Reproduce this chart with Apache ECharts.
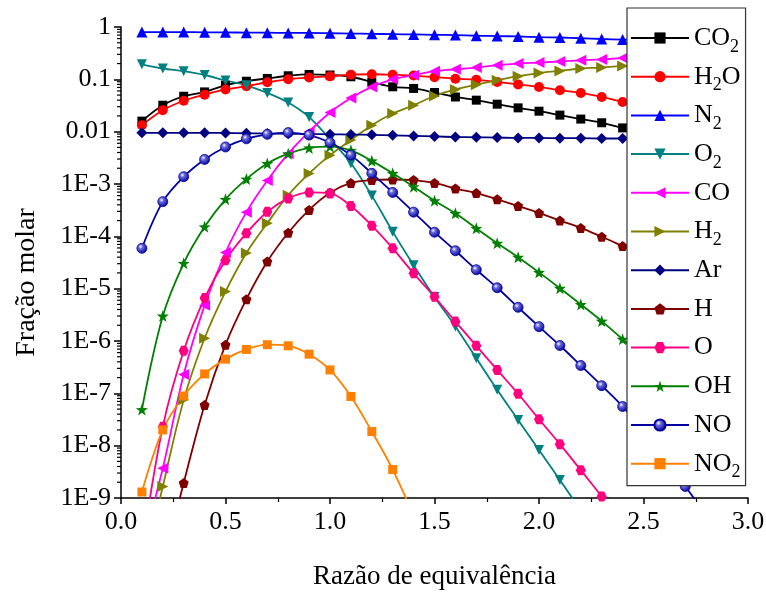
<!DOCTYPE html>
<html>
<head>
<meta charset="utf-8">
<script src="https://cdn.jsdelivr.net/npm/echarts@6/dist/echarts.min.js"></script>
<style>html,body{margin:0;padding:0;background:#fff}#c{width:766px;height:592px}</style>
</head>
<body>
<div id="c"></div>
<script>
// Equivalence ratio (x) for every point
const phi = [0.1,0.2,0.3,0.4,0.5,0.6,0.7,0.8,0.9,1.0,1.1,1.2,1.3,1.4,1.5,1.6,1.7,1.8,1.9,2.0,2.1,2.2,2.3,2.4,2.5,2.6,2.7,2.8,2.9];

// Mole fractions
const CO2 = [0.0159,0.032,0.0475,0.0575,0.077,0.092,0.104,0.117,0.124,0.121,0.112,0.089,0.072,0.067,0.056,0.046,0.040,0.0335,0.0285,0.0246,0.0207,0.0174,0.0148,0.0118,0.0100,0.0085,0.0072,0.0061,0.0052];
const H2O = [0.0133,0.0257,0.039,0.051,0.064,0.074,0.088,0.100,0.108,0.114,0.123,0.125,0.122,0.118,0.110,0.103,0.098,0.089,0.080,0.0716,0.062,0.055,0.046,0.037,0.031,0.026,0.021,0.017,0.014];
const N2  = [0.80,0.80,0.80,0.79,0.79,0.78,0.78,0.77,0.77,0.76,0.75,0.74,0.73,0.72,0.71,0.70,0.68,0.67,0.66,0.64,0.63,0.61,0.59,0.575,0.56,0.55,0.53,0.52,0.50];
const O2  = [0.194,0.161,0.143,0.121,0.095,0.077,0.055,0.036,0.019,0.0072,0.0025,6.0e-4,1.23e-4,2.8e-5,6.9e-6,1.9e-6,4.7e-7,1.17e-7,3.1e-8,8.3e-9,2.2e-9,5.8e-10,1.5e-10,null,null,null,null,null,null];
const CO  = [1.1e-10,3.7e-9,2.3e-7,4.8e-6,4.9e-5,2.9e-4,1.17e-3,3.8e-3,0.0100,0.0233,0.044,0.0716,0.100,0.120,0.143,0.155,0.168,0.186,0.200,0.209,0.220,0.231,0.240,0.255,0.265,0.275,0.285,0.290,0.295];
const H2  = [3.4e-11,1.66e-9,7.5e-8,1.13e-6,8.8e-6,4.8e-5,1.78e-4,6.1e-4,1.59e-3,3.56e-3,6.9e-3,0.0133,0.0222,0.032,0.048,0.064,0.079,0.096,0.115,0.132,0.145,0.161,0.168,0.180,0.190,0.200,0.210,0.215,0.220];
const Ar  = [0.0095,0.0095,0.0095,0.0095,0.0094,0.0093,0.0092,0.0091,0.0090,0.0089,0.0088,0.0087,0.0085,0.0083,0.0081,0.0079,0.0078,0.0077,0.0076,0.0076,0.0075,0.0075,0.0074,0.0074,0.0073,0.0073,0.0072,0.0072,0.0071];
const H   = [1e-12,5e-11,1.94e-9,6.0e-8,8.5e-7,6.3e-6,3.3e-5,1.17e-4,3.2e-4,6.8e-4,1.05e-3,1.19e-3,1.22e-3,1.19e-3,1.05e-3,8.2e-4,6.7e-4,5.1e-4,3.8e-4,2.8e-4,2.0e-4,1.45e-4,9.8e-5,6.5e-5,4.3e-5,2.8e-5,1.8e-5,1.2e-5,7.7e-6];
const O   = [1e-10,2.3e-8,6.5e-7,6.6e-6,3.5e-5,1.15e-4,2.95e-4,5.3e-4,6.9e-4,6.6e-4,3.8e-4,1.6e-4,5.9e-5,1.96e-5,7.0e-6,2.35e-6,8.1e-7,2.8e-7,9.8e-8,3.2e-8,1.07e-8,3.4e-9,1.07e-9,3.3e-10,1e-10,null,null,null,null];
const OH  = [4.9e-8,3.0e-6,3.05e-5,1.52e-4,5.1e-4,1.24e-3,2.46e-3,3.8e-3,4.9e-3,5.2e-3,4.4e-3,2.77e-3,1.6e-3,8.9e-4,4.8e-4,2.75e-4,1.42e-4,7.4e-5,4.0e-5,2.05e-5,1.02e-5,5.0e-6,2.4e-6,1.08e-6,4.7e-7,2.0e-7,8.3e-8,3.4e-8,1.35e-8];
const NO  = [5.9e-5,4.6e-4,1.38e-3,2.95e-3,5.1e-3,7.3e-3,8.9e-3,9.6e-3,8.6e-3,6.2e-3,3.56e-3,1.6e-3,6.9e-4,2.9e-4,1.2e-4,5.3e-5,2.3e-5,1.04e-5,4.4e-6,1.88e-6,8.2e-7,3.4e-7,1.4e-7,5.6e-8,1.8e-8,5.5e-9,1.66e-9,4.7e-10,1.3e-10];
const NO2 = [1.3e-9,2.0e-8,8.9e-8,2.35e-7,4.5e-7,6.9e-7,8.5e-7,8.1e-7,5.6e-7,2.8e-7,8.7e-8,1.86e-8,3.5e-9,4.5e-10,4e-11,null,null,null,null,null,null,null,null,null,null,null,null,null,null];

// Axis ticks
const xTicks = [0.0,0.5,1.0,1.5,2.0,2.5,3.0];
const yTickLabels = {'0':'1','-1':'0.1','-2':'0.01','-3':'1E-3','-4':'1E-4','-5':'1E-5','-6':'1E-6','-7':'1E-7','-8':'1E-8','-9':'1E-9'};

const FONT = '"Liberation Serif","DejaVu Serif",serif';
const pair = arr => phi.map((x,i) => [x, arr[i]]);

const SYM = {
  down: 'path://M0,10 L-10,-7.32 L10,-7.32 Z',
  left: 'path://M-10,0 L7.32,-10 L7.32,10 Z',
  right:'path://M10,0 L-7.32,-10 L-7.32,10 Z',
  pent: 'path://M0,-10 L9.51,-3.09 L5.88,8.09 L-5.88,8.09 L-9.51,-3.09 Z',
  hex:  'path://M-5,-8.66 L5,-8.66 L10,0 L5,8.66 L-5,8.66 L-10,0 Z',
  star: 'path://M0,-10 L2.35,-3.24 L9.51,-3.09 L3.8,1.24 L5.88,8.09 L0,4 L-5.88,8.09 L-3.8,1.24 L-9.51,-3.09 L-2.35,-3.24 Z'
};

const defs = [
  {name:'CO2', data:CO2, color:'#000000', symbol:'rect', size:9},
  {name:'H2O', data:H2O, color:'#FF0000', symbol:'circle', size:10},
  {name:'N2',  data:N2,  color:'#0000FF', symbol:'triangle', size:11},
  {name:'O2',  data:O2,  color:'#008080', symbol:SYM.down, size:10},
  {name:'CO',  data:CO,  color:'#FF00FF', symbol:SYM.left, size:11},
  {name:'H2',  data:H2,  color:'#808000', symbol:SYM.right, size:11},
  {name:'Ar',  data:Ar,  color:'#000080', symbol:'diamond', size:11},
  {name:'H',   data:H,   color:'#800000', symbol:SYM.pent, size:10},
  {name:'O',   data:O,   color:'#FF0080', symbol:SYM.hex, size:10},
  {name:'OH',  data:OH,  color:'#008000', symbol:SYM.star, size:12},
  {name:'NO',  data:NO,  color:'#0000A0', symbol:'circle', size:10,
     fill:{type:'radial',x:0.38,y:0.35,r:0.65,colorStops:[{offset:0,color:'#ffffff'},{offset:0.3,color:'#6a6ad8'},{offset:1,color:'#0000A0'}]}},
  {name:'NO2', data:NO2, color:'#FF8000', symbol:'rect', size:9}
];

const legendRich = {
  'CO2':'{n|CO}{s|2}','H2O':'{n|H}{s|2}{n|O}','N2':'{n|N}{s|2}','O2':'{n|O}{s|2}',
  'CO':'{n|CO}','H2':'{n|H}{s|2}','Ar':'{n|Ar}','H':'{n|H}','O':'{n|O}','OH':'{n|OH}','NO':'{n|NO}','NO2':'{n|NO}{s|2}'
};

const minorVals = [];
for (let e = -9; e < 0; e++) for (let k = 2; k <= 9; k++) minorVals.push(k * Math.pow(10, e));

const series = defs.map(d => ({
  name: d.name, type: 'line', data: pair(d.data),
  smooth: 0.35, clip: true,
  symbol: d.symbol, symbolSize: d.size,
  lineStyle: {color: d.color, width: 1.8},
  itemStyle: {color: d.fill || d.color, borderColor: d.color, borderWidth: d.fill ? 0.8 : 0},
  emphasis: {disabled: true},
  z: 2
}));

series.push({
  name: 'minor', type: 'custom', coordinateSystem: 'cartesian2d', silent: true,
  data: minorVals.map(v => [0, v]),
  renderItem: (params, api) => {
    const p = api.coord([0, api.value(1)]);
    return {type:'line', shape:{x1:p[0]-4, y1:p[1], x2:p[0], y2:p[1]}, style:{stroke:'#000', lineWidth:1.2}};
  },
  z: 3
});

const chart = echarts.init(document.getElementById('c'), null, {renderer:'canvas'});
chart.setOption({
  animation: false,
  backgroundColor: '#fff',
  grid: {left: 121, right: 18, top: 27, bottom: 94, containLabel: false, outerBoundsMode: 'none'},
  xAxis: {
    type: 'value', min: xTicks[0], max: xTicks[xTicks.length-1], interval: 0.5,
    axisLine: {lineStyle: {color: '#000', width: 1.5}},
    axisTick: {length: 6, lineStyle: {color: '#000', width: 1.5}},
    minorTick: {show: true, splitNumber: 2, length: 4, lineStyle: {color: '#000', width: 1.2}},
    splitLine: {show: false}, minorSplitLine: {show: false},
    axisLabel: {color: '#000', fontFamily: FONT, fontSize: 26, margin: 11, formatter: v => v.toFixed(1)},
    name: 'Razão de equivalência', nameLocation: 'middle', nameGap: 65,
    nameTextStyle: {color: '#000', fontFamily: FONT, fontSize: 27}
  },
  yAxis: {
    type: 'log', logBase: 10, min: 1e-9, max: 1, splitNumber: 10,
    axisLine: {lineStyle: {color: '#000', width: 1.5}},
    axisTick: {length: 7, lineStyle: {color: '#000', width: 1.5}},
    splitLine: {show: false},
    axisLabel: {color: '#000', fontFamily: FONT, fontSize: 26, margin: 10,
      formatter: v => yTickLabels[String(Math.round(Math.log10(v)))] || ''},
    name: 'Fração molar', nameLocation: 'middle', nameGap: 80,
    nameTextStyle: {color: '#000', fontFamily: FONT, fontSize: 28, padding: [0, 40, 0, 0]}
  },
  legend: {
    data: defs.map(d => d.name),
    orient: 'vertical', left: 627, top: 8,
    padding: [12, 5, 4, 3], itemGap: 2.7,
    itemWidth: 58, itemHeight: 14,
    backgroundColor: '#fff', borderColor: '#333', borderWidth: 1.2,
    selectedMode: false,
    formatter: n => legendRich[n] || n,
    textStyle: {color: '#000', fontFamily: FONT, fontSize: 26, lineHeight: 36,
      rich: {
        n: {color: '#000', fontFamily: FONT, fontSize: 26, lineHeight: 36},
        s: {color: '#000', fontFamily: FONT, fontSize: 18, lineHeight: 13, verticalAlign: 'bottom'}
      }
    },
    z: 10
  },
  series: series
});
</script>
</body>
</html>
